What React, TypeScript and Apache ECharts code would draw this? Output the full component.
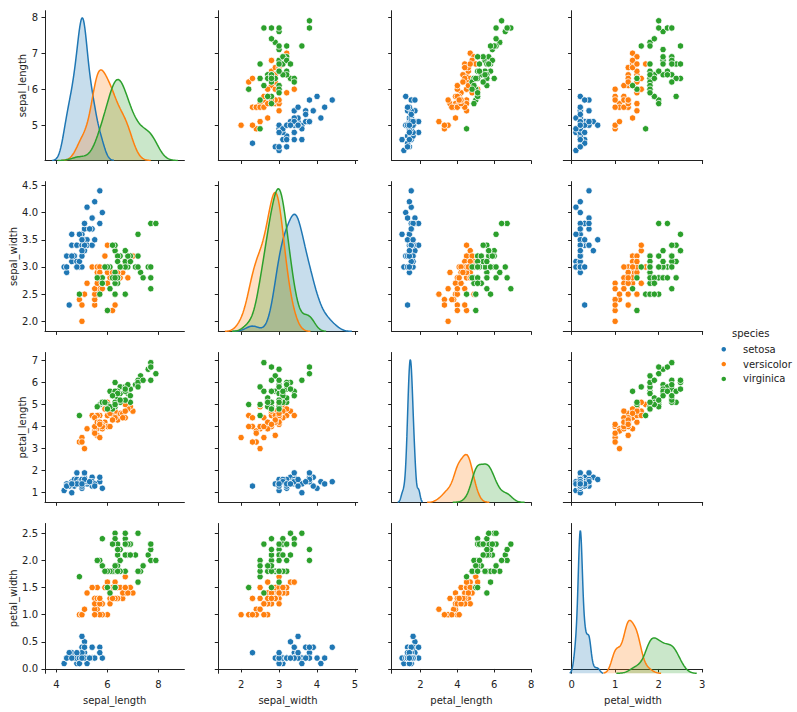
import React, { useEffect, useRef } from "react";
import * as echarts from "echarts";

const species = ["setosa", "versicolor", "virginica"];
const speciesColors = ["#1f77b4", "#ff7f0e", "#2ca02c"];
const variables = ["sepal_length", "sepal_width", "petal_length", "petal_width"];

// iris data, one array per species and variable
const setosaSepalLength = [5.1,4.9,4.7,4.6,5.0,5.4,4.6,5.0,4.4,4.9,5.4,4.8,4.8,4.3,5.8,5.7,5.4,5.1,5.7,5.1,5.4,5.1,4.6,5.1,4.8,5.0,5.0,5.2,5.2,4.7,4.8,5.4,5.2,5.5,4.9,5.0,5.5,4.9,4.4,5.1,5.0,4.5,4.4,5.0,5.1,4.8,5.1,4.6,5.3,5.0];
const setosaSepalWidth = [3.5,3.0,3.2,3.1,3.6,3.9,3.4,3.4,2.9,3.1,3.7,3.4,3.0,3.0,4.0,4.4,3.9,3.5,3.8,3.8,3.4,3.7,3.6,3.3,3.4,3.0,3.4,3.5,3.4,3.2,3.1,3.4,4.1,4.2,3.1,3.2,3.5,3.6,3.0,3.4,3.5,2.3,3.2,3.5,3.8,3.0,3.8,3.2,3.7,3.3];
const setosaPetalLength = [1.4,1.4,1.3,1.5,1.4,1.7,1.4,1.5,1.4,1.5,1.5,1.6,1.4,1.1,1.2,1.5,1.3,1.4,1.7,1.5,1.7,1.5,1.0,1.7,1.9,1.6,1.6,1.5,1.4,1.6,1.6,1.5,1.5,1.4,1.5,1.2,1.3,1.4,1.3,1.5,1.3,1.3,1.3,1.6,1.9,1.4,1.6,1.4,1.5,1.4];
const setosaPetalWidth = [0.2,0.2,0.2,0.2,0.2,0.4,0.3,0.2,0.2,0.1,0.2,0.2,0.1,0.1,0.2,0.4,0.4,0.3,0.3,0.3,0.2,0.4,0.2,0.5,0.2,0.2,0.4,0.2,0.2,0.2,0.2,0.4,0.1,0.2,0.2,0.2,0.2,0.1,0.2,0.2,0.3,0.3,0.2,0.6,0.4,0.3,0.2,0.2,0.2,0.2];

const versicolorSepalLength = [7.0,6.4,6.9,5.5,6.5,5.7,6.3,4.9,6.6,5.2,5.0,5.9,6.0,6.1,5.6,6.7,5.6,5.8,6.2,5.6,5.9,6.1,6.3,6.1,6.4,6.6,6.8,6.7,6.0,5.7,5.5,5.5,5.8,6.0,5.4,6.0,6.7,6.3,5.6,5.5,5.5,6.1,5.8,5.0,5.6,5.7,5.7,6.2,5.1,5.7];
const versicolorSepalWidth = [3.2,3.2,3.1,2.3,2.8,2.8,3.3,2.4,2.9,2.7,2.0,3.0,2.2,2.9,2.9,3.1,3.0,2.7,2.2,2.5,3.2,2.8,2.5,2.8,2.9,3.0,2.8,3.0,2.9,2.6,2.4,2.4,2.7,2.7,3.0,3.4,3.1,2.3,3.0,2.5,2.6,3.0,2.6,2.3,2.7,3.0,2.9,2.9,2.5,2.8];
const versicolorPetalLength = [4.7,4.5,4.9,4.0,4.6,4.5,4.7,3.3,4.6,3.9,3.5,4.2,4.0,4.7,3.6,4.4,4.5,4.1,4.5,3.9,4.8,4.0,4.9,4.7,4.3,4.4,4.8,5.0,4.5,3.5,3.8,3.7,3.9,5.1,4.5,4.5,4.7,4.4,4.1,4.0,4.4,4.6,4.0,3.3,4.2,4.2,4.2,4.3,3.0,4.1];
const versicolorPetalWidth = [1.4,1.5,1.5,1.3,1.5,1.3,1.6,1.0,1.3,1.4,1.0,1.5,1.0,1.4,1.3,1.4,1.5,1.0,1.5,1.1,1.8,1.3,1.5,1.2,1.3,1.4,1.4,1.7,1.5,1.0,1.1,1.0,1.2,1.6,1.5,1.6,1.5,1.3,1.3,1.3,1.2,1.4,1.2,1.0,1.3,1.2,1.3,1.3,1.1,1.3];

const virginicaSepalLength = [6.3,5.8,7.1,6.3,6.5,7.6,4.9,7.3,6.7,7.2,6.5,6.4,6.8,5.7,5.8,6.4,6.5,7.7,7.7,6.0,6.9,5.6,7.7,6.3,6.7,7.2,6.2,6.1,6.4,7.2,7.4,7.9,6.4,6.3,6.1,7.7,6.3,6.4,6.0,6.9,6.7,6.9,5.8,6.8,6.7,6.7,6.3,6.5,6.2,5.9];
const virginicaSepalWidth = [3.3,2.7,3.0,2.9,3.0,3.0,2.5,2.9,2.5,3.6,3.2,2.7,3.0,2.5,2.8,3.2,3.0,3.8,2.6,2.2,3.2,2.8,2.8,2.7,3.3,3.2,2.8,3.0,2.8,3.0,2.8,3.8,2.8,2.8,2.6,3.0,3.4,3.1,3.0,3.1,3.1,3.1,2.7,3.2,3.3,3.0,2.5,3.0,3.4,3.0];
const virginicaPetalLength = [6.0,5.1,5.9,5.6,5.8,6.6,4.5,6.3,5.8,6.1,5.1,5.3,5.5,5.0,5.1,5.3,5.5,6.7,6.9,5.0,5.7,4.9,6.7,4.9,5.7,6.0,4.8,4.9,5.6,5.8,6.1,6.4,5.6,5.1,5.6,6.1,5.6,5.5,4.8,5.4,5.6,5.1,5.1,5.9,5.7,5.2,5.0,5.2,5.4,5.1];
const virginicaPetalWidth = [2.5,1.9,2.1,1.8,2.2,2.1,1.7,1.8,1.8,2.5,2.0,1.9,2.1,2.0,2.4,2.3,1.8,2.2,2.3,1.5,2.3,2.0,2.0,1.8,2.1,1.8,1.8,1.8,2.1,1.6,1.9,2.0,2.2,1.5,1.4,2.3,2.4,1.8,1.8,2.1,2.4,2.3,1.9,2.3,2.5,2.3,1.9,2.0,2.3,1.8];

// tick labels for each variable
const sepalLengthTicksX = [4, 6, 8];
const sepalWidthTicksX = [2, 3, 4, 5];
const petalLengthTicksX = [2, 4, 6, 8];
const petalWidthTicksX = [0, 1, 2, 3];
const sepalLengthTicksY = [5, 6, 7, 8];
const sepalWidthTicksY = [2.0, 2.5, 3.0, 3.5, 4.0, 4.5];
const petalLengthTicksY = [1, 2, 3, 4, 5, 6, 7];
const petalWidthTicksY = [0.0, 0.5, 1.0, 1.5, 2.0, 2.5];

const seriesByVariable: number[][][] = [
  [setosaSepalLength, versicolorSepalLength, virginicaSepalLength],
  [setosaSepalWidth, versicolorSepalWidth, virginicaSepalWidth],
  [setosaPetalLength, versicolorPetalLength, virginicaPetalLength],
  [setosaPetalWidth, versicolorPetalWidth, virginicaPetalWidth],
];
const xTicks = [sepalLengthTicksX, sepalWidthTicksX, petalLengthTicksX, petalWidthTicksX];
const yTicks = [sepalLengthTicksY, sepalWidthTicksY, petalLengthTicksY, petalWidthTicksY];
const yDecimals = [0, 1, 0, 1];

// axis extents (as in the reference)
const colRange = [[3.55, 9.02], [1.40, 5.07], [0.44, 8.0], [-0.19, 3.01]];
const rowRange = [[4.02, 8.18], [1.815, 4.57], [0.565, 7.36], [-0.08, 2.68]];

// layout
const colLeft = [45, 218.3, 391.7, 563.3];
const colWidth = 139.4;
const rowTop = [10.7, 181.6, 352.5, 523.5];
const rowHeight = 149.8;

const FONT = "DejaVu Sans";
const INK = "#222222";

// Gaussian KDE (Scott's rule, 100 grid points, cut = 3), like seaborn's kdeplot
function kde(values: number[]): number[][] {
  const n = values.length;
  const mean = values.reduce((a, b) => a + b, 0) / n;
  const ss = values.reduce((a, b) => a + (b - mean) * (b - mean), 0);
  const factor = Math.pow(n, -0.2);
  const bwK = Math.sqrt(ss / (n - 1)) * factor;
  const bwG = Math.sqrt(ss / n) * factor;
  const lo = Math.min(...values) - 3 * bwG;
  const hi = Math.max(...values) + 3 * bwG;
  const out: number[][] = [];
  const norm = 1 / (n * bwK * Math.sqrt(2 * Math.PI));
  for (let k = 0; k < 100; k++) {
    const x = lo + ((hi - lo) * k) / 99;
    let s = 0;
    for (const v of values) {
      const z = (x - v) / bwK;
      s += Math.exp(-0.5 * z * z);
    }
    out.push([x, s * norm]);
  }
  return out;
}

function buildOption() {
  const grid: any[] = [];
  const xAxis: any[] = [];
  const yAxis: any[] = [];
  const series: any[] = [];
  const axisLine = { show: true, lineStyle: { color: INK, width: 1 } };
  const tickStyle = { show: true, length: 3.5, lineStyle: { color: INK, width: 1 } };
  const labelStyle = { fontFamily: FONT, fontSize: 10, color: INK };

  for (let i = 0; i < 4; i++) {
    for (let j = 0; j < 4; j++) {
      const g = i * 4 + j;
      grid.push({ left: colLeft[j], top: rowTop[i], width: colWidth, height: rowHeight, containLabel: false });
      xAxis.push({
        type: "value",
        gridIndex: g,
        min: colRange[j][0],
        max: colRange[j][1],
        axisLine,
        axisTick: { ...tickStyle, customValues: xTicks[j] },
        axisLabel: { show: i === 3, customValues: xTicks[j], margin: 6, ...labelStyle, formatter: (v: number) => String(v) },
        splitLine: { show: false },
        name: i === 3 ? variables[j] : "",
        nameLocation: "middle",
        nameGap: 22,
        nameTextStyle: { fontFamily: FONT, fontSize: 10, color: INK },
      });
      yAxis.push({
        type: "value",
        gridIndex: g,
        min: rowRange[i][0],
        max: rowRange[i][1],
        axisLine,
        axisTick: { ...tickStyle, customValues: yTicks[i] },
        axisLabel: {
          show: j === 0,
          customValues: yTicks[i],
          margin: 7,
          ...labelStyle,
          formatter: (v: number) => v.toFixed(yDecimals[i]),
        },
        splitLine: { show: false },
        name: j === 0 ? variables[i] : "",
        nameLocation: "middle",
        nameGap: 16,
        nameTextStyle: { fontFamily: FONT, fontSize: 10, color: INK },
      });
    }
  }

  // off-diagonal scatter panels
  for (let i = 0; i < 4; i++) {
    for (let j = 0; j < 4; j++) {
      if (i === j) continue;
      const g = i * 4 + j;
      for (let s = 0; s < 3; s++) {
        const xs = seriesByVariable[j][s];
        const ys = seriesByVariable[i][s];
        series.push({
          type: "scatter",
          name: species[s],
          xAxisIndex: g,
          yAxisIndex: g,
          symbol: "circle",
          symbolSize: 6.4,
          data: xs.map((x, k) => [x, ys[k]]),
          itemStyle: { color: speciesColors[s], borderColor: "#ffffff", borderWidth: 0.8, opacity: 1 },
          emphasis: { disabled: true },
        });
      }
    }
  }

  // diagonal KDE panels (own hidden density axis)
  for (let d = 0; d < 4; d++) {
    const g = d * 5;
    const curves = seriesByVariable[d].map((vals) => kde(vals));
    const yIndex = yAxis.length;
    yAxis.push({
      type: "value",
      gridIndex: g,
      show: false,
      min: 0,
      max: (ext: any) => ext.max * 1.05,
      splitLine: { show: false },
    });
    curves.forEach((pts, s) => {
      series.push({
        type: "line",
        name: species[s],
        xAxisIndex: g,
        yAxisIndex: yIndex,
        data: pts,
        showSymbol: false,
        symbol: "none",
        smooth: false,
        clip: true,
        lineStyle: { color: speciesColors[s], width: 1.5 },
        itemStyle: { color: speciesColors[s] },
        areaStyle: { color: speciesColors[s], opacity: 0.25, origin: "start" },
        emphasis: { disabled: true },
      });
    });
  }

  return {
    animation: false,
    backgroundColor: "#ffffff",
    grid,
    xAxis,
    yAxis,
    series,
    legend: {
      data: species.map((name) => ({ name, icon: "circle" })),
      orient: "vertical",
      left: 719.5,
      top: 343.3,
      padding: 0,
      itemWidth: 6.5,
      itemHeight: 6.5,
      itemGap: 2.8,
      selectedMode: false,
      textStyle: { fontFamily: FONT, fontSize: 10, color: INK, lineHeight: 12, padding: [0, 0, 0, 11] },
    },
    graphic: [
      {
        type: "text",
        left: 732,
        top: 328,
        style: { text: "species", fontFamily: FONT, fontSize: 10, fill: INK },
      },
    ],
  };
}

export default function App() {
  const ref = useRef<HTMLDivElement>(null);
  useEffect(() => {
    if (!ref.current) return;
    const chart = echarts.init(ref.current, undefined, { renderer: "svg" });
    chart.setOption(buildOption() as any);
    return () => chart.dispose();
  }, []);
  return (
    <div
      ref={ref}
      style={{ position: "fixed", left: 0, top: 0, width: 797, height: 712, background: "#ffffff" }}
    />
  );
}
